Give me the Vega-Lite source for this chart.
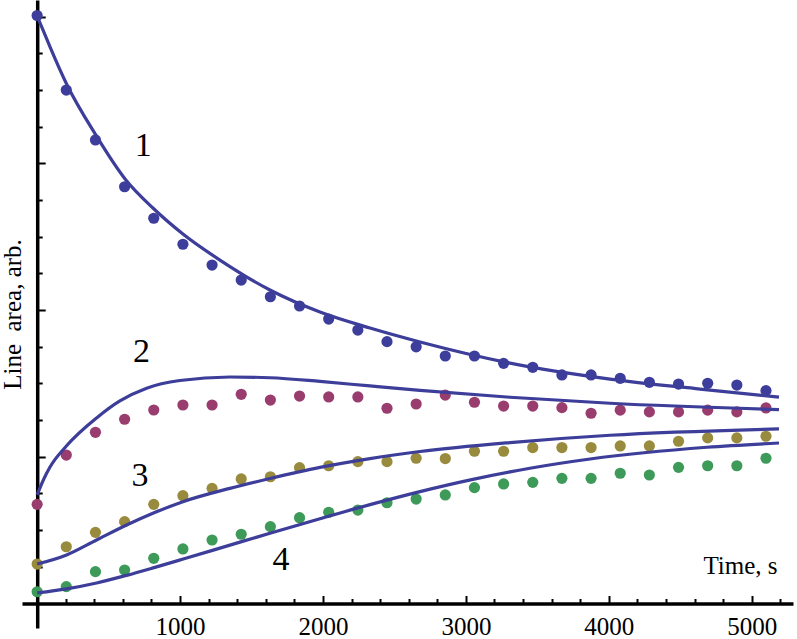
{
  "$schema": "https://vega.github.io/schema/vega-lite/v6.json",
  "width": 771,
  "height": 628,
  "autosize": {"type": "none"},
  "padding": {"left": 22, "top": 0, "right": 4, "bottom": 11},
  "background": "white",
  "config": {"view": {"stroke": null}, "font": "Liberation Serif"},
  "datasets": {
    "dots": [
      {"t": 0, "v": 4.008, "series": "1"}, {"t": 204, "v": 3.5, "series": "1"}, {"t": 408, "v": 3.16, "series": "1"}, {"t": 612, "v": 2.841, "series": "1"},
      {"t": 816, "v": 2.626, "series": "1"}, {"t": 1020, "v": 2.449, "series": "1"}, {"t": 1224, "v": 2.307, "series": "1"}, {"t": 1428, "v": 2.205, "series": "1"},
      {"t": 1632, "v": 2.091, "series": "1"}, {"t": 1836, "v": 2.028, "series": "1"}, {"t": 2040, "v": 1.939, "series": "1"}, {"t": 2244, "v": 1.864, "series": "1"},
      {"t": 2448, "v": 1.785, "series": "1"}, {"t": 2652, "v": 1.75, "series": "1"}, {"t": 2856, "v": 1.687, "series": "1"}, {"t": 3060, "v": 1.687, "series": "1"},
      {"t": 3264, "v": 1.637, "series": "1"}, {"t": 3468, "v": 1.61, "series": "1"}, {"t": 3672, "v": 1.558, "series": "1"}, {"t": 3876, "v": 1.558, "series": "1"},
      {"t": 4080, "v": 1.535, "series": "1"}, {"t": 4284, "v": 1.508, "series": "1"}, {"t": 4488, "v": 1.496, "series": "1"}, {"t": 4692, "v": 1.501, "series": "1"},
      {"t": 4896, "v": 1.489, "series": "1"}, {"t": 5100, "v": 1.451, "series": "1"},
      {"t": 0, "v": 0.676, "series": "2"}, {"t": 204, "v": 1.012, "series": "2"}, {"t": 408, "v": 1.167, "series": "2"}, {"t": 612, "v": 1.256, "series": "2"},
      {"t": 816, "v": 1.319, "series": "2"}, {"t": 1020, "v": 1.353, "series": "2"}, {"t": 1224, "v": 1.353, "series": "2"}, {"t": 1428, "v": 1.426, "series": "2"},
      {"t": 1632, "v": 1.387, "series": "2"}, {"t": 1836, "v": 1.414, "series": "2"}, {"t": 2040, "v": 1.408, "series": "2"}, {"t": 2244, "v": 1.408, "series": "2"},
      {"t": 2448, "v": 1.331, "series": "2"}, {"t": 2652, "v": 1.36, "series": "2"}, {"t": 2856, "v": 1.421, "series": "2"}, {"t": 3060, "v": 1.372, "series": "2"},
      {"t": 3264, "v": 1.346, "series": "2"}, {"t": 3468, "v": 1.346, "series": "2"}, {"t": 3672, "v": 1.335, "series": "2"}, {"t": 3876, "v": 1.297, "series": "2"},
      {"t": 4080, "v": 1.318, "series": "2"}, {"t": 4284, "v": 1.306, "series": "2"}, {"t": 4488, "v": 1.306, "series": "2"}, {"t": 4692, "v": 1.318, "series": "2"},
      {"t": 4896, "v": 1.306, "series": "2"}, {"t": 5100, "v": 1.333, "series": "2"},
      {"t": 0, "v": 0.269, "series": "3"}, {"t": 204, "v": 0.387, "series": "3"}, {"t": 408, "v": 0.485, "series": "3"}, {"t": 612, "v": 0.558, "series": "3"},
      {"t": 816, "v": 0.676, "series": "3"}, {"t": 1020, "v": 0.735, "series": "3"}, {"t": 1224, "v": 0.785, "series": "3"}, {"t": 1428, "v": 0.849, "series": "3"},
      {"t": 1632, "v": 0.864, "series": "3"}, {"t": 1836, "v": 0.926, "series": "3"}, {"t": 2040, "v": 0.939, "series": "3"}, {"t": 2244, "v": 0.967, "series": "3"},
      {"t": 2448, "v": 0.967, "series": "3"}, {"t": 2652, "v": 0.99, "series": "3"}, {"t": 2856, "v": 0.988, "series": "3"}, {"t": 3060, "v": 1.038, "series": "3"},
      {"t": 3264, "v": 1.038, "series": "3"}, {"t": 3468, "v": 1.063, "series": "3"}, {"t": 3672, "v": 1.063, "series": "3"}, {"t": 3876, "v": 1.063, "series": "3"},
      {"t": 4080, "v": 1.074, "series": "3"}, {"t": 4284, "v": 1.074, "series": "3"}, {"t": 4488, "v": 1.106, "series": "3"}, {"t": 4692, "v": 1.129, "series": "3"},
      {"t": 4896, "v": 1.129, "series": "3"}, {"t": 5100, "v": 1.14, "series": "3"},
      {"t": 0, "v": 0.08, "series": "4"}, {"t": 204, "v": 0.115, "series": "4"}, {"t": 408, "v": 0.217, "series": "4"}, {"t": 612, "v": 0.228, "series": "4"},
      {"t": 816, "v": 0.308, "series": "4"}, {"t": 1020, "v": 0.372, "series": "4"}, {"t": 1224, "v": 0.433, "series": "4"}, {"t": 1428, "v": 0.472, "series": "4"},
      {"t": 1632, "v": 0.524, "series": "4"}, {"t": 1836, "v": 0.585, "series": "4"}, {"t": 2040, "v": 0.622, "series": "4"}, {"t": 2244, "v": 0.637, "series": "4"},
      {"t": 2448, "v": 0.687, "series": "4"}, {"t": 2652, "v": 0.712, "series": "4"}, {"t": 2856, "v": 0.74, "series": "4"}, {"t": 3060, "v": 0.79, "series": "4"},
      {"t": 3264, "v": 0.815, "series": "4"}, {"t": 3468, "v": 0.826, "series": "4"}, {"t": 3672, "v": 0.853, "series": "4"}, {"t": 3876, "v": 0.853, "series": "4"},
      {"t": 4080, "v": 0.888, "series": "4"}, {"t": 4284, "v": 0.876, "series": "4"}, {"t": 4488, "v": 0.928, "series": "4"}, {"t": 4692, "v": 0.939, "series": "4"},
      {"t": 4896, "v": 0.939, "series": "4"}, {"t": 5100, "v": 0.99, "series": "4"}
    ],
    "fits": [
      {"t": 0, "v": 4.004, "curve": "1"}, {"t": 45, "v": 3.9, "curve": "1"}, {"t": 90, "v": 3.794, "curve": "1"}, {"t": 206, "v": 3.541, "curve": "1"},
      {"t": 411, "v": 3.193, "curve": "1"}, {"t": 621, "v": 2.887, "curve": "1"}, {"t": 810, "v": 2.696, "curve": "1"}, {"t": 1020, "v": 2.519, "curve": "1"},
      {"t": 1279, "v": 2.341, "curve": "1"}, {"t": 1629, "v": 2.137, "curve": "1"}, {"t": 1979, "v": 1.987, "curve": "1"}, {"t": 2329, "v": 1.878, "curve": "1"},
      {"t": 2679, "v": 1.783, "curve": "1"}, {"t": 3309, "v": 1.639, "curve": "1"}, {"t": 4009, "v": 1.53, "curve": "1"}, {"t": 4639, "v": 1.462, "curve": "1"},
      {"t": 5191, "v": 1.407, "curve": "1"},
      {"t": 0, "v": 0.74, "curve": "2"}, {"t": 45, "v": 0.845, "curve": "2"}, {"t": 90, "v": 0.93, "curve": "2"}, {"t": 206, "v": 1.075, "curve": "2"}, {"t": 416, "v": 1.265, "curve": "2"},
      {"t": 579, "v": 1.381, "curve": "2"}, {"t": 766, "v": 1.468, "curve": "2"}, {"t": 999, "v": 1.52, "curve": "2"}, {"t": 1349, "v": 1.544, "curve": "2"},
      {"t": 1629, "v": 1.539, "curve": "2"}, {"t": 1979, "v": 1.514, "curve": "2"}, {"t": 2329, "v": 1.483, "curve": "2"}, {"t": 2679, "v": 1.453, "curve": "2"},
      {"t": 3309, "v": 1.406, "curve": "2"}, {"t": 4009, "v": 1.365, "curve": "2"}, {"t": 5191, "v": 1.322, "curve": "2"},
      {"t": 0, "v": 0.269, "curve": "3"}, {"t": 206, "v": 0.331, "curve": "3"}, {"t": 416, "v": 0.433, "curve": "3"}, {"t": 626, "v": 0.535, "curve": "3"},
      {"t": 810, "v": 0.615, "curve": "3"}, {"t": 1020, "v": 0.694, "curve": "3"}, {"t": 1349, "v": 0.785, "curve": "3"}, {"t": 1629, "v": 0.852, "curve": "3"},
      {"t": 1979, "v": 0.928, "curve": "3"}, {"t": 2329, "v": 0.988, "curve": "3"}, {"t": 2679, "v": 1.036, "curve": "3"}, {"t": 3309, "v": 1.097, "curve": "3"},
      {"t": 4009, "v": 1.147, "curve": "3"}, {"t": 5191, "v": 1.19, "curve": "3"},
      {"t": 0, "v": 0.072, "curve": "4"}, {"t": 206, "v": 0.1, "curve": "4"}, {"t": 416, "v": 0.14, "curve": "4"}, {"t": 626, "v": 0.192, "curve": "4"},
      {"t": 812, "v": 0.243, "curve": "4"}, {"t": 1022, "v": 0.303, "curve": "4"}, {"t": 1349, "v": 0.398, "curve": "4"}, {"t": 1629, "v": 0.479, "curve": "4"},
      {"t": 1979, "v": 0.578, "curve": "4"}, {"t": 2329, "v": 0.674, "curve": "4"}, {"t": 2679, "v": 0.763, "curve": "4"}, {"t": 3057, "v": 0.848, "curve": "4"},
      {"t": 3448, "v": 0.922, "curve": "4"}, {"t": 3869, "v": 0.985, "curve": "4"}, {"t": 4687, "v": 1.065, "curve": "4"}, {"t": 5191, "v": 1.094, "curve": "4"}
    ],
    "labels": [
      {"t": 742, "v": 3.121, "label": "1"},
      {"t": 731, "v": 1.716, "label": "2"},
      {"t": 719, "v": 0.869, "label": "3"},
      {"t": 1706, "v": 0.297, "label": "4"}
    ]
  },
  "encoding": {
    "x": {
      "field": "t", "type": "quantitative",
      "scale": {"domain": [-106, 5289], "nice": false, "zero": false},
      "axis": {
        "values": [200, 400, 600, 800, 1000, 1200, 1400, 1600, 1800, 2000, 2200, 2400, 2600, 2800, 3000, 3200, 3400, 3600, 3800, 4000, 4200, 4400, 4600, 4800, 5000, 5200],
        "format": "d",
        "labelExpr": "datum.value % 1000 === 0 ? datum.label : ''",
        "offset": -24.5,
        "grid": false,
        "domainColor": "black", "domainWidth": 3.5,
        "tickColor": "black", "tickWidth": 2,
        "tickSize": {"expr": "datum.value % 1000 === 0 ? -8 : -5"},
        "labelFont": "Liberation Serif", "labelFontSize": 25, "labelColor": "black",
        "labelPadding": 19, "labelFlush": false, "labelOverlap": false, "labelBaseline": "top",
        "title": "Time, s",
        "titleFont": "Liberation Serif", "titleFontSize": 25, "titleFontWeight": "normal", "titleColor": "black",
        "titleX": 718, "titleY": -38, "titleAlign": "center", "titleBaseline": "middle", "titleAnchor": null
      }
    },
    "y": {
      "field": "v", "type": "quantitative",
      "scale": {"domain": [-0.167, 4.114], "nice": false, "zero": false},
      "axis": {
        "values": [0.25, 0.5, 0.75, 1, 1.25, 1.5, 1.75, 2, 2.25, 2.5, 2.75, 3, 3.25, 3.5, 3.75, 4],
        "labels": false,
        "offset": -15.2,
        "grid": false,
        "domainColor": "black", "domainWidth": 3.5,
        "tickColor": "black", "tickWidth": 2,
        "tickSize": {"expr": "datum.value % 1 === 0 ? -8 : -5"},
        "title": "Line\u00a0 area, arb.",
        "titleFont": "Liberation Serif", "titleFontSize": 25, "titleFontWeight": "normal", "titleColor": "black",
        "titleAngle": 270,
        "titleX": -17, "titleY": 314, "titleAlign": "center", "titleBaseline": "alphabetic"
      }
    }
  },
  "layer": [
    {
      "data": {"name": "dots"},
      "mark": {"type": "circle", "size": 125, "opacity": 1},
      "encoding": {
        "color": {
          "field": "series", "type": "nominal",
          "scale": {"domain": ["1", "2", "3", "4"], "range": ["#3d3d9c", "#993d6f", "#998b3d", "#3d9a58"]},
          "legend": null
        }
      }
    },
    {
      "data": {"name": "fits"},
      "mark": {"type": "line", "color": "#3d3d9a", "strokeWidth": 3.2, "interpolate": "monotone"},
      "encoding": {"detail": {"field": "curve", "type": "nominal"}}
    },
    {
      "data": {"name": "labels"},
      "mark": {"type": "text", "fontSize": 34, "font": "Liberation Serif", "align": "center", "baseline": "middle", "color": "black"},
      "encoding": {"text": {"field": "label", "type": "nominal"}}
    }
  ]
}
